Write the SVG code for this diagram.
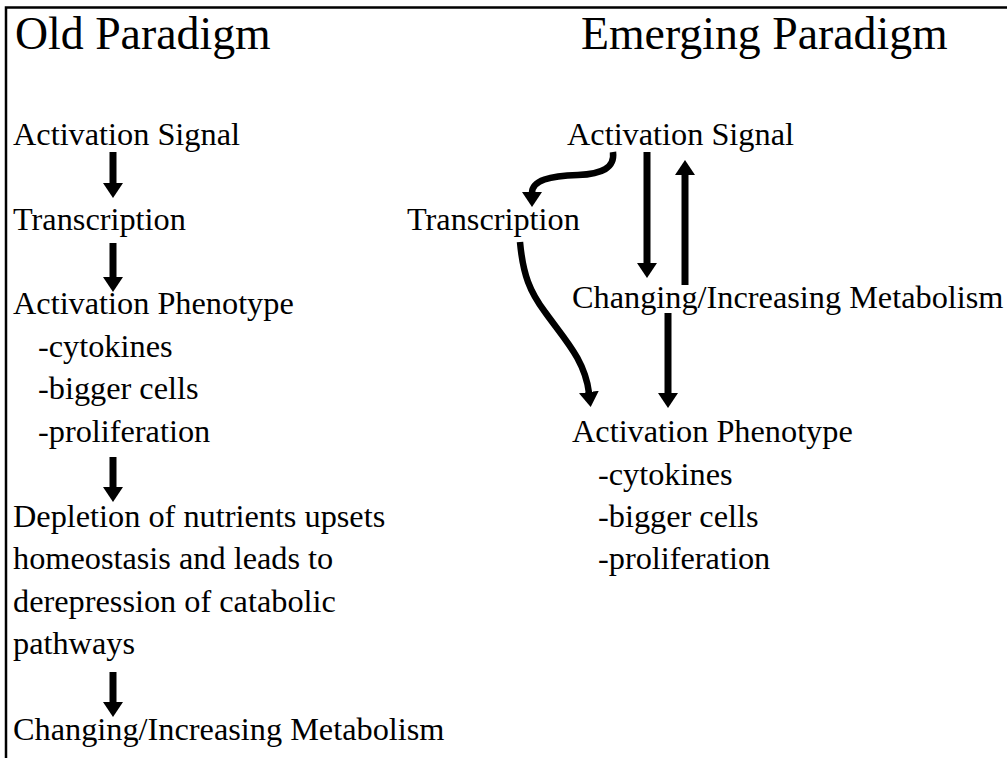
<svg xmlns="http://www.w3.org/2000/svg" width="1007" height="758" viewBox="0 0 1007 758">
  <style>
    text { font-family: "Liberation Serif", "Times New Roman", serif; fill: #000; }
    .h { font-size: 45.8px; }
    .t { font-size: 32.3px; }
    .a { fill: none; stroke: #000; stroke-width: 7; marker-end: url(#ah); }
    .c { fill: none; stroke: #000; stroke-width: 6.5; marker-end: url(#ah); }
  </style>
  <defs>
    <marker id="ah" viewBox="0 -10 15 20" refX="1" refY="0" markerWidth="15" markerHeight="20" markerUnits="userSpaceOnUse" orient="auto">
      <path d="M0,-10 L15,0 L0,10 Z" fill="#000"/>
    </marker>
  </defs>
  <rect width="1007" height="758" fill="#fff"/>
  <path d="M6,758 V7.5 H1007" fill="none" stroke="#000" stroke-width="2.5"/>

  <g id="title-old"><text class="h" x="15" y="49">Old Paradigm</text></g>
  <g id="title-new"><text class="h" x="581" y="49">Emerging Paradigm</text></g>

  <g id="old-activation-signal"><text class="t" x="13" y="145">Activation Signal</text></g>
  <g id="old-transcription"><text class="t" x="13" y="230">Transcription</text></g>
  <g id="old-activation-phenotype">
    <text class="t" x="13" y="314">Activation Phenotype</text>
    <text class="t" x="38" y="357">-cytokines</text>
    <text class="t" x="38" y="399">-bigger cells</text>
    <text class="t" x="38" y="442">-proliferation</text>
  </g>
  <g id="old-depletion">
    <text class="t" x="13" y="527">Depletion of nutrients upsets</text>
    <text class="t" x="13" y="569">homeostasis and leads to</text>
    <text class="t" x="13" y="612">derepression of catabolic</text>
    <text class="t" x="13" y="654">pathways</text>
  </g>
  <g id="old-metabolism"><text class="t" x="13" y="740">Changing/Increasing Metabolism</text></g>

  <g id="new-activation-signal"><text class="t" x="567" y="145">Activation Signal</text></g>
  <g id="new-transcription"><text class="t" x="407" y="230">Transcription</text></g>
  <g id="new-metabolism"><text class="t" x="572" y="308">Changing/Increasing Metabolism</text></g>
  <g id="new-activation-phenotype">
    <text class="t" x="572" y="442">Activation Phenotype</text>
    <text class="t" x="598" y="485">-cytokines</text>
    <text class="t" x="598" y="527">-bigger cells</text>
    <text class="t" x="598" y="569">-proliferation</text>
  </g>

  <g id="connectors">
    <path class="a" d="M113,152 V184"/>
    <path class="a" d="M113,243 V278"/>
    <path class="a" d="M113,457 V488"/>
    <path class="a" d="M113,672 V703"/>

    <path class="c" d="M613,152 C615,168 602,174 578,175 C550,176 532,180 532,193"/>
    <path class="a" d="M647,152 V264"/>
    <path class="a" d="M685,285 V174"/>
    <path class="a" d="M668,313 V394"/>
    <path class="c" d="M520,242 C523,275 530,292 545,312 C565,340 585,360 589,393"/>
  </g>
</svg>
